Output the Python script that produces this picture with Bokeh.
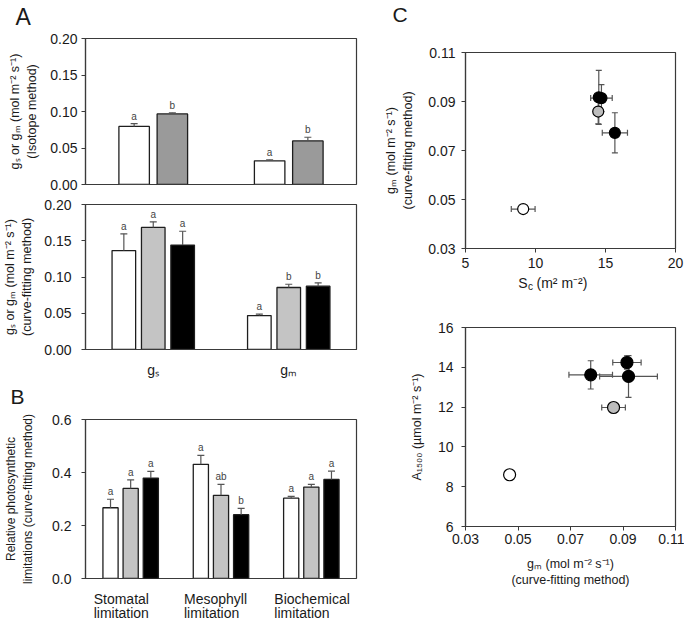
import numpy as np
from bokeh.plotting import figure
from bokeh.models import (ColumnDataSource, FactorRange, Range1d, FixedTicker,
                          NumeralTickFormatter, Title)
from bokeh.transform import dodge
from bokeh.layouts import row, column
from bokeh.embed import file_html
from bokeh.resources import INLINE
from bokeh.core.properties import value

FONT = "Liberation Sans"
AX = "#3a3a3a"
TXT = "#1a1a1a"
ERR = "#555555"
BAR_LINE = "#1e1e1e"

# ---------------- data ----------------
a_groups = ["gₛ", "gₘ"]
iso_white = [0.0795, 0.0325]
iso_white_err = [0.004, 0.0013]
iso_white_lab = ["a", "a"]
iso_grey = [0.0967, 0.0597]
iso_grey_err = [0.0015, 0.005]
iso_grey_lab = ["b", "b"]

cf_white = [0.1365, 0.0468]
cf_white_err = [0.023, 0.002]
cf_white_lab = ["a", "a"]
cf_grey = [0.1684, 0.0855]
cf_grey_err = [0.0077, 0.0045]
cf_grey_lab = ["a", "b"]
cf_black = [0.1441, 0.0873]
cf_black_err = [0.019, 0.0046]
cf_black_lab = ["a", "b"]

b_groups = ["Stomatal limitation", "Mesophyll limitation", "Biochemical limitation"]
b_line1 = ["Stomatal", "Mesophyll", "Biochemical"]
b_line2 = ["limitation", "limitation", "limitation"]
lim_white = [0.267, 0.431, 0.303]
lim_white_err = [0.032, 0.034, 0.007]
lim_white_lab = ["a", "a", "a"]
lim_grey = [0.340, 0.314, 0.345]
lim_grey_err = [0.032, 0.041, 0.010]
lim_grey_lab = ["a", "ab", "a"]
lim_black = [0.379, 0.241, 0.374]
lim_black_err = [0.025, 0.024, 0.031]
lim_black_lab = ["a", "b", "a"]

# C (top): Sc vs gm
sc_vals = [9.12, 14.48, 14.52, 14.71, 15.67]
sc_err = [0.85, 0.1, 0.1, 0.77, 0.9]
gm_top = [0.0461, 0.0859, 0.0917, 0.0914, 0.0772]
gm_top_err = [0.0008, 0.005, 0.011, 0.0055, 0.0082]
point_fill = ["white", "#bdbdbd", "black", "black", "black"]

# C (bottom): gm vs A1500
gm_bot = [0.0468, 0.0864, 0.0921, 0.0915, 0.0777]
gm_bot_err = [0.0005, 0.0045, 0.011, 0.0054, 0.0083]
a1500 = [8.6, 11.98, 13.54, 14.24, 13.62]
a1500_err = [0.05, 0.2, 1.05, 0.33, 0.71]

LEFT_W, L_BL, L_BR = 365, 80, 9      # left column: width, left/right borders
RIGHT_W, R_BL, R_BR = 319, 100, 9    # right column


def base_style(p):
    p.background_fill_color = "white"
    p.border_fill_color = "white"
    p.outline_line_color = AX
    p.outline_line_width = 1.2
    p.xgrid.visible = False
    p.ygrid.visible = False
    for ax in p.axis:
        ax.axis_line_color = AX
        ax.axis_line_width = 1.2
        ax.major_tick_line_color = AX
        ax.major_tick_in = 0
        ax.major_tick_out = 4
        ax.minor_tick_line_color = None
        ax.major_label_text_font = FONT
        ax.major_label_text_font_size = "14px"
        ax.major_label_text_color = TXT
        ax.axis_label_text_font = FONT
        ax.axis_label_text_font_size = "12.5px"
        ax.axis_label_text_font_style = "normal"
        ax.axis_label_text_color = TXT


def panel_title(p, text, size, offset, spacer):
    # spacer title (closest to the frame) lifts the panel letter upwards
    p.add_layout(Title(text=" ", text_font_size="1px", standoff=spacer - 1),
                 "above")
    p.title.text = text
    p.title.align = "left"
    p.title.offset = offset
    p.title.standoff = 0
    p.title.text_font = FONT
    p.title.text_font_size = size
    p.title.text_font_style = "normal"
    p.title.text_color = TXT


def text_fig(width, height, left, right, x_range):
    p = figure(width=width, height=height, x_range=x_range,
               y_range=Range1d(0, height), x_axis_type=None, y_axis_type=None,
               output_backend="svg", toolbar_location=None,
               min_border_left=left, min_border_right=right,
               min_border_top=0, min_border_bottom=0)
    p.outline_line_color = None
    p.background_fill_color = "white"
    p.border_fill_color = "white"
    return p


def put_text(p, xs, ys, texts, size, align="left", x_offset=0):
    p.text(x=xs, y=ys, text=texts, text_font=value(FONT), text_font_size=size,
           text_color=TXT, text_align=align, text_baseline="middle",
           x_offset=x_offset)


def bar_panel(groups, series, height, top, bottom, ymax, ticks, fmt,
              bar_w, ylabel, tick_std, lab_std):
    p = figure(x_range=FactorRange(factors=groups, range_padding=0),
               y_range=Range1d(0, ymax), width=LEFT_W, height=height,
               output_backend="svg", toolbar_location=None,
               min_border_left=L_BL, min_border_right=L_BR,
               min_border_top=top, min_border_bottom=bottom)
    base_style(p)
    for vals, errs, labs, fill, off in series:
        src = ColumnDataSource(dict(cat=groups, val=vals,
                                    top=[v + e for v, e in zip(vals, errs)],
                                    lab=labs))
        xd = dodge("cat", off, range=p.x_range)
        p.vbar(x=xd, top="val", bottom=0, width=bar_w, fill_color=fill,
               line_color=BAR_LINE, line_width=1.3, source=src)
        p.segment(x0=xd, y0="val", x1=xd, y1="top", line_color=ERR,
                  line_width=1.2, source=src)
        p.scatter(x=xd, y="top", marker="dash", size=7, line_color=ERR,
                  line_width=1.2, source=src)
        p.text(x=xd, y="top", text="lab", text_font=value(FONT),
               text_font_size="10px", text_color="#444444", text_align="center",
               text_baseline="bottom", y_offset=-2, source=src)
    p.yaxis.ticker = FixedTicker(ticks=ticks)
    p.yaxis.formatter = NumeralTickFormatter(format=fmt)
    p.yaxis.axis_label = ylabel
    p.yaxis.major_label_standoff = tick_std
    p.yaxis.axis_label_standoff = lab_std
    return p


# ---------- A (isotope) ----------
pa1 = bar_panel(a_groups,
                [(iso_white, iso_white_err, iso_white_lab, "white", -0.141),
                 (iso_grey, iso_grey_err, iso_grey_lab, "#9a9a9a", 0.141)],
                194, 38, 10, 0.2,
                [0, 0.05, 0.10, 0.15, 0.20], "0.00", 0.225,
                "gₛ or gₘ (mol m⁻² s⁻¹)\n(Isotope method)", 4, 8)
pa1.xaxis.visible = False
panel_title(pa1, "A", "23px", -70, 7)

# ---------- A (curve fitting) ----------
pa2 = bar_panel(a_groups,
                [(cf_white, cf_white_err, cf_white_lab, "white", -0.217),
                 (cf_grey, cf_grey_err, cf_grey_lab, "#c4c4c4", 0.0),
                 (cf_black, cf_black_err, cf_black_lab, "black", 0.217)],
                186, 10, 28, 0.2,
                [0, 0.05, 0.10, 0.15, 0.20], "0.00", 0.174,
                "gₛ or gₘ (mol m⁻² s⁻¹)\n(curve-fitting method)", 10, 7)
pa2.xaxis.major_tick_line_color = None
pa2.xaxis.major_tick_out = 0
pa2.xaxis.major_label_standoff = 12

# ---------- B ----------
pb = bar_panel(b_groups,
               [(lim_white, lim_white_err, lim_white_lab, "white", -0.223),
                (lim_grey, lim_grey_err, lim_grey_lab, "#c4c4c4", 0.0),
                (lim_black, lim_black_err, lim_black_lab, "black", 0.223)],
               206, 39, 8, 0.6,
               [0, 0.2, 0.4, 0.6], "0.0", 0.168,
               "Relative photosynthetic\nlimitations (curve-fitting method)", 10, 14)
pb.yaxis.axis_label_text_font_size = "12px"
pb.xaxis.visible = False
panel_title(pb, "B", "21px", -75, 10)

# B category labels (two left-aligned lines under each group)
pb_lab = text_fig(LEFT_W, 33, L_BL, L_BR, pb.x_range)
put_text(pb_lab, b_groups, [21] * 3, b_line1, "14px", x_offset=-37)
put_text(pb_lab, b_groups, [7] * 3, b_line2, "14px", x_offset=-37)


def scatter_panel(xs, xe, ys, ye, fills, xr, yr, xticks, yticks, xfmt, yfmt,
                  height, top, bottom, size):
    p = figure(x_range=Range1d(*xr), y_range=Range1d(*yr), width=RIGHT_W,
               height=height, output_backend="svg", toolbar_location=None,
               min_border_left=R_BL, min_border_right=R_BR,
               min_border_top=top, min_border_bottom=bottom)
    base_style(p)
    x0 = [x - e for x, e in zip(xs, xe)]
    x1 = [x + e for x, e in zip(xs, xe)]
    y0 = [y - e for y, e in zip(ys, ye)]
    y1 = [y + e for y, e in zip(ys, ye)]
    p.segment(x0=x0, y0=ys, x1=x1, y1=ys, line_color=ERR, line_width=1.2)
    p.segment(x0=xs, y0=y0, x1=xs, y1=y1, line_color=ERR, line_width=1.2)
    p.scatter(x=x0 + x1, y=ys + ys, marker="dash", angle=np.pi / 2, size=6,
              line_color=ERR, line_width=1.2)
    p.scatter(x=xs + xs, y=y0 + y1, marker="dash", size=6,
              line_color=ERR, line_width=1.2)
    p.scatter(x=xs, y=ys, size=size, fill_color=fills, line_color="black",
              line_width=1.2)
    p.xaxis.ticker = FixedTicker(ticks=xticks)
    p.yaxis.ticker = FixedTicker(ticks=yticks)
    p.xaxis.formatter = NumeralTickFormatter(format=xfmt)
    p.yaxis.formatter = NumeralTickFormatter(format=yfmt)
    return p


# ---------- C top ----------
pc1 = scatter_panel(sc_vals, sc_err, gm_top, gm_top_err, point_fill,
                    (5, 20), (0.03, 0.11), [5, 10, 15, 20],
                    [0.03, 0.05, 0.07, 0.09, 0.11], "0", "0.00",
                    273, 52, 25, 11)
pc1.yaxis.axis_label = "gₘ (mol m⁻² s⁻¹)\n(curve-fitting method)"
pc1.yaxis.major_label_standoff = 6
pc1.yaxis.axis_label_standoff = 10
pc1.xaxis.major_label_standoff = 5
panel_title(pc1, "C", "21px", -73, 25)

# x-axis title of C top: S with subscript c (frame-relative pixel positions)
frame_w = RIGHT_W - R_BL - R_BR
sc_lab = text_fig(RIGHT_W, 25, R_BL, R_BR, Range1d(0, frame_w))
put_text(sc_lab, [62], [16], ["S"], "14px", align="right")
put_text(sc_lab, [62.5], [12], ["c"], "10px", align="left")
put_text(sc_lab, [71], [16], ["(m² m⁻²)"], "14px", align="left")

# ---------- C bottom ----------
pc2 = scatter_panel(gm_bot, gm_bot_err, a1500, a1500_err, point_fill,
                    (0.03, 0.11), (6, 16), [0.03, 0.05, 0.07, 0.09, 0.11],
                    [6, 8, 10, 12, 14, 16], "0.00", "0",
                    298, 29, 70, 12)
pc2.yaxis.axis_label = "A₁₅₀₀ (µmol m⁻² s⁻¹)"
pc2.xaxis.axis_label = "gₘ (mol m⁻² s⁻¹)\n(curve-fitting method)"
pc2.yaxis.major_label_standoff = 8
pc2.yaxis.axis_label_standoff = 11
pc2.xaxis.major_label_standoff = 3
pc2.xaxis.axis_label_standoff = 10

layout = row(column(pa1, pa2, pb, pb_lab),
             column(pc1, sc_lab, pc2))
open("out.html", "w").write(file_html(layout, INLINE))
